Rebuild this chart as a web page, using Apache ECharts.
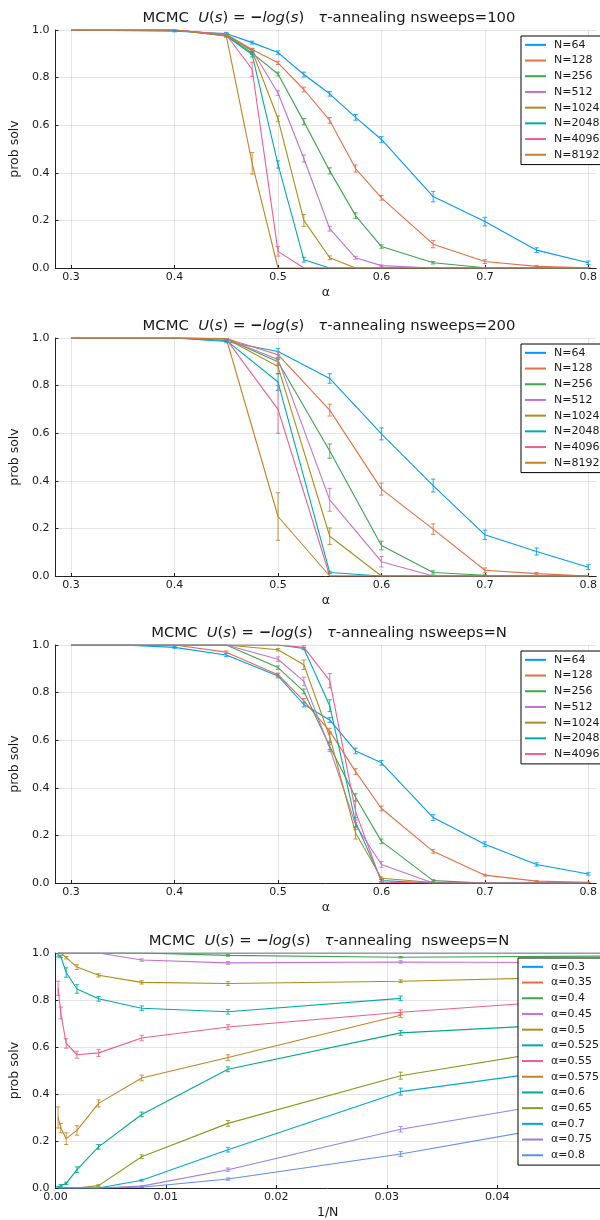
<!DOCTYPE html>
<html>
<head>
<meta charset="utf-8">
<script src="https://cdn.jsdelivr.net/npm/echarts@6/dist/echarts.min.js"></script>
<style>
html,body{margin:0;padding:0;background:#fff;}
#c{width:600px;height:1220px;}
</style>
</head>
<body>
<div id="c"></div>
<script>
// ---------- Panel 1 : nsweeps=100 ----------
const alpha100 = [0.3, 0.4, 0.45, 0.475, 0.5, 0.525, 0.55, 0.575, 0.6, 0.65, 0.7, 0.75, 0.8];
const p100_N64   = [1.0, 0.995, 0.985, 0.947, 0.905, 0.813, 0.732, 0.633, 0.54, 0.30, 0.195, 0.075, 0.022];
const p100_N128  = [1.0, 1.0, 0.982, 0.918, 0.862, 0.75, 0.62, 0.418, 0.295, 0.10, 0.027, 0.007, 0.001];
const p100_N256  = [1.0, 1.0, 0.978, 0.903, 0.815, 0.615, 0.408, 0.22, 0.09, 0.022, 0.001, 0, 0];
const p100_N512  = [1.0, 1.0, 0.98, 0.915, 0.735, 0.46, 0.165, 0.043, 0.01, 0, 0, 0, 0];
const p100_N1024 = [1.0, 1.0, 0.98, 0.912, 0.627, 0.20, 0.043, 0, 0, 0, 0, 0, 0];
const p100_N2048 = [1.0, 1.0, 0.975, 0.897, 0.435, 0.035, 0, 0, 0, 0, 0, 0, 0];
const p100_N4096 = [1.0, 1.0, 0.98, 0.835, 0.07, 0, 0, 0, 0, 0, 0, 0, 0];
const p100_N8192 = [1.0, 1.0, 0.975, 0.44, 0, 0, 0, 0, 0, 0, 0, 0, 0];
const e100_N64   = [0, 0.003, 0.005, 0.006, 0.007, 0.01, 0.01, 0.012, 0.012, 0.022, 0.018, 0.01, 0.007];
const e100_N128  = [0, 0, 0.004, 0.005, 0.007, 0.01, 0.012, 0.015, 0.01, 0.015, 0.008, 0.004, 0.001];
const e100_N256  = [0, 0, 0.004, 0.006, 0.008, 0.013, 0.013, 0.012, 0.007, 0.005, 0, 0, 0];
const e100_N512  = [0, 0, 0.004, 0.007, 0.01, 0.015, 0.01, 0.006, 0.003, 0, 0, 0, 0];
const e100_N1024 = [0, 0, 0.004, 0.008, 0.012, 0.025, 0.008, 0, 0, 0, 0, 0, 0];
const e100_N2048 = [0, 0, 0.004, 0.01, 0.015, 0.01, 0, 0, 0, 0, 0, 0, 0];
const e100_N4096 = [0, 0, 0.004, 0.03, 0.02, 0, 0, 0, 0, 0, 0, 0, 0];
const e100_N8192 = [0, 0, 0.005, 0.045, 0, 0, 0, 0, 0, 0, 0, 0, 0];

// ---------- Panel 2 : nsweeps=200 ----------
const alpha200 = [0.3, 0.4, 0.45, 0.5, 0.55, 0.6, 0.65, 0.7, 0.75, 0.8];
const p200_N64   = [1.0, 1.0, 0.985, 0.943, 0.83, 0.597, 0.38, 0.173, 0.103, 0.037];
const p200_N128  = [1.0, 1.0, 0.998, 0.93, 0.697, 0.365, 0.197, 0.024, 0.01, 0];
const p200_N256  = [1.0, 1.0, 0.997, 0.90, 0.525, 0.128, 0.015, 0.003, 0, 0];
const p200_N512  = [1.0, 1.0, 0.997, 0.91, 0.32, 0.06, 0, 0, 0, 0];
const p200_N1024 = [1.0, 1.0, 0.997, 0.88, 0.167, 0, 0, 0, 0, 0];
const p200_N2048 = [1.0, 1.0, 0.99, 0.815, 0.015, 0, 0, 0, 0, 0];
const p200_N4096 = [1.0, 1.0, 0.995, 0.70, 0, 0, 0, 0, 0, 0];
const p200_N8192 = [1.0, 1.0, 0.998, 0.25, 0, 0, 0, 0, 0, 0];
const e200_N64   = [0, 0, 0.005, 0.013, 0.02, 0.025, 0.027, 0.02, 0.015, 0.01];
const e200_N128  = [0, 0, 0.003, 0.012, 0.025, 0.025, 0.022, 0.01, 0.005, 0];
const e200_N256  = [0, 0, 0.003, 0.015, 0.03, 0.018, 0.007, 0.002, 0, 0];
const e200_N512  = [0, 0, 0.003, 0.02, 0.048, 0.022, 0, 0, 0, 0];
const e200_N1024 = [0, 0, 0.003, 0.03, 0.035, 0, 0, 0, 0, 0];
const e200_N2048 = [0, 0, 0.005, 0.035, 0.005, 0, 0, 0, 0, 0];
const e200_N4096 = [0, 0, 0.003, 0.10, 0, 0, 0, 0, 0, 0];
const e200_N8192 = [0, 0, 0.002, 0.10, 0, 0, 0, 0, 0, 0];

// ---------- Panel 3 : nsweeps=N ----------
const alphaN = [0.3, 0.35, 0.4, 0.45, 0.5, 0.525, 0.55, 0.575, 0.6, 0.65, 0.7, 0.75, 0.8];
const pN_N16   = [1.0, 1.0, 0.99, 0.956, 0.914, null, 0.851, null, 0.736, 0.718, 0.607, 0.499, 0.403];
const pN_N32   = [1.0, 1.0, 0.982, 0.962, 0.88, 0.807, 0.748, 0.735, 0.66, 0.478, 0.41, 0.25, 0.145];
const pN_N64   = [1.0, 1.0, 0.99, 0.958, 0.87, 0.75, 0.685, 0.555, 0.505, 0.275, 0.163, 0.078, 0.038];
const pN_N128  = [1.0, 1.0, 1.0, 0.97, 0.875, 0.765, 0.638, 0.468, 0.313, 0.133, 0.033, 0.008, 0.003];
const pN_N256  = [1.0, 1.0, 1.0, 1.0, 0.905, 0.805, 0.575, 0.36, 0.175, 0.01, 0, 0, 0];
const pN_N512  = [1.0, 1.0, 1.0, 1.0, 0.94, 0.847, 0.567, 0.245, 0.078, 0, 0, 0, 0];
const pN_N1024 = [1.0, 1.0, 1.0, 1.0, 0.98, 0.917, 0.615, 0.21, 0.02, 0.002, 0, 0, 0];
const pN_N2048 = [1.0, 1.0, 1.0, 1.0, 1.0, 0.985, 0.745, 0.255, 0.01, 0, 0, 0, 0];
const pN_N4096 = [1.0, 1.0, 1.0, 1.0, 1.0, 0.99, 0.85, 0.30, 0.003, 0, 0, 0, 0];
const eN_N16   = [0, 0, 0.003, 0.005, 0.006, 0, 0.01, 0, 0.01, 0.015, 0.015, 0.012, 0.01];
const eN_N32   = [0, 0, 0.003, 0.005, 0.006, 0.01, 0.01, 0.01, 0.01, 0.015, 0.015, 0.012, 0.01];
const eN_N64   = [0, 0, 0.004, 0.006, 0.008, 0.01, 0.01, 0.012, 0.01, 0.012, 0.01, 0.007, 0.005];
const eN_N128  = [0, 0, 0, 0.005, 0.007, 0.01, 0.012, 0.012, 0.01, 0.008, 0.004, 0.002, 0.001];
const eN_N256  = [0, 0, 0, 0, 0.007, 0.01, 0.015, 0.015, 0.01, 0.004, 0, 0, 0];
const eN_N512  = [0, 0, 0, 0, 0.01, 0.018, 0.015, 0.02, 0.012, 0, 0, 0, 0];
const eN_N1024 = [0, 0, 0, 0, 0.005, 0.02, 0.02, 0.025, 0.005, 0, 0, 0, 0];
const eN_N2048 = [0, 0, 0, 0, 0, 0.005, 0.025, 0.02, 0.005, 0, 0, 0, 0];
const eN_N4096 = [0, 0, 0, 0, 0, 0.007, 0.03, 0.045, 0.003, 0, 0, 0, 0];

// ---------- labels / ticks ----------
const alphaTicks = [0.3, 0.4, 0.5, 0.6, 0.7, 0.8];
const palette = ['#009AFA', '#E36F47', '#3EA44E', '#C371D2', '#AC8E18', '#00AAAE', '#ED5E93', '#C68225',
                 '#00A98D', '#8E971E', '#00A9CD', '#9B7FE9', '#618DF6'];
const titleTail = ['nsweeps=100', 'nsweeps=200', 'nsweeps=N', ' nsweeps=N'];

// ---------- build ----------
const FONT = 'DejaVu Sans';
const TXT = '#1a1a1a';
const gridTops = [30, 338, 645, 953];
const GH = 238;

function errRender(params, api) {
  const x = api.value(0), y = api.value(1), e = api.value(2);
  if (!(e > 0)) return null;
  const lo = api.coord([x, y - e]), hi = api.coord([x, y + e]);
  const c = api.visual('color');
  const w = 2.2;
  const st = { stroke: c, lineWidth: 1, opacity: 0.85 };
  return { type: 'group', children: [
    { type: 'line', shape: { x1: lo[0], y1: lo[1], x2: hi[0], y2: hi[1] }, style: st },
    { type: 'line', shape: { x1: lo[0] - w, y1: lo[1], x2: lo[0] + w, y2: lo[1] }, style: st },
    { type: 'line', shape: { x1: hi[0] - w, y1: hi[1], x2: hi[0] + w, y2: hi[1] }, style: st }
  ]};
}

const series = [];
function addSeries(gi, name, xs, ys, es, color) {
  const pts = [], epts = [];
  xs.forEach((x, i) => {
    if (ys[i] === null || ys[i] === undefined) return;
    pts.push([x, ys[i]]);
    epts.push([x, ys[i], es ? es[i] : 0]);
  });
  series.push({ type: 'line', name: name, xAxisIndex: gi, yAxisIndex: gi, data: pts,
    showSymbol: false, symbol: 'none', lineStyle: { width: 1.1, color: color }, itemStyle: { color: color },
    animation: false, z: 2 });
  series.push({ type: 'custom', name: name + ' err', xAxisIndex: gi, yAxisIndex: gi, data: epts,
    renderItem: errRender, itemStyle: { color: color }, clip: true, animation: false, z: 3,
    encode: { x: 0, y: 1 } });
}

const Nnames = ['N=64', 'N=128', 'N=256', 'N=512', 'N=1024', 'N=2048', 'N=4096', 'N=8192'];
[p100_N64, p100_N128, p100_N256, p100_N512, p100_N1024, p100_N2048, p100_N4096, p100_N8192].forEach((s, i) =>
  addSeries(0, Nnames[i], alpha100, s, [e100_N64, e100_N128, e100_N256, e100_N512, e100_N1024, e100_N2048, e100_N4096, e100_N8192][i], palette[i]));
[p200_N64, p200_N128, p200_N256, p200_N512, p200_N1024, p200_N2048, p200_N4096, p200_N8192].forEach((s, i) =>
  addSeries(1, Nnames[i], alpha200, s, [e200_N64, e200_N128, e200_N256, e200_N512, e200_N1024, e200_N2048, e200_N4096, e200_N8192][i], palette[i]));
const pNlist = [pN_N64, pN_N128, pN_N256, pN_N512, pN_N1024, pN_N2048, pN_N4096];
const eNlist = [eN_N64, eN_N128, eN_N256, eN_N512, eN_N1024, eN_N2048, eN_N4096];
pNlist.forEach((s, i) => addSeries(2, Nnames[i], alphaN, s, eNlist[i], palette[i]));

// panel 4: transpose over N
const Nvals4 = [4096, 2048, 1024, 512, 256, 128, 64, 32, 16];
const pByN = [pN_N4096, pN_N2048, pN_N1024, pN_N512, pN_N256, pN_N128, pN_N64, pN_N32, pN_N16];
const eByN = [eN_N4096, eN_N2048, eN_N1024, eN_N512, eN_N256, eN_N128, eN_N64, eN_N32, eN_N16];
const invN = Nvals4.map(n => 1 / n);
const alphaNames = alphaN.map(a => 'α=' + a);
alphaN.forEach((a, j) => {
  addSeries(3, alphaNames[j], invN, pByN.map(arr => arr[j]), eByN.map(arr => arr[j]), palette[j]);
});

function mkTitle(i) {
  const fs = 14.8;
  return {
    text: 'MCMC  {i|U}({i|s}) = {b|−}{i|log}({i|s})   {i|τ}-annealing ' + titleTail[i],
    left: 324, top: gridTops[i] - 24, textAlign: 'center',
    textStyle: { fontFamily: FONT, fontSize: fs, fontWeight: 'normal', color: TXT,
      rich: { i: { fontFamily: FONT, fontSize: fs, fontStyle: 'italic', color: TXT },
              b: { fontFamily: FONT, fontSize: fs, fontWeight: 'bold', color: TXT } } }
  };
}

function mkLegend(i, names) {
  return {
    data: names, orient: 'vertical', left: i === 3 ? 518 : 521, top: gridTops[i] + (i === 3 ? 5 : 6),
    itemWidth: 21, itemHeight: 2, itemGap: 2, icon: 'rect',
    padding: [2, 12, 3, 4], borderColor: '#000', borderWidth: 1, backgroundColor: '#fff',
    textStyle: { fontFamily: FONT, fontSize: 11, color: TXT, lineHeight: 13.7, padding: [0, 0, 0, 3] },
    z: 20, selectedMode: false
  };
}

const grids = gridTops.map(t => ({ left: 50, top: t, width: 550, height: GH, containLabel: false }));
grids[3].height = 237;

const axisLineStyle = { show: true, lineStyle: { color: '#222', width: 1 } };
const splitStyle = { show: true, lineStyle: { color: 'rgba(0,0,0,0.1)', width: 1 } };

const xAxes = [0, 1, 2].map(i => ({
  type: 'value', gridIndex: i, min: 0.2848, max: 0.8076,
  name: 'α', nameLocation: 'middle', nameGap: 18,
  nameTextStyle: { fontFamily: FONT, fontSize: 12.5, color: TXT },
  axisLine: axisLineStyle,
  axisTick: { show: true, inside: true, length: 3, customValues: alphaTicks, lineStyle: { color: '#222' } },
  axisLabel: { customValues: alphaTicks, fontFamily: FONT, fontSize: 11, color: TXT, margin: 4,
    formatter: v => v.toFixed(1) },
  splitLine: splitStyle
}));
xAxes.push({
  type: 'value', gridIndex: 3, min: 0, max: 0.0493, interval: 0.01,
  name: '1/N', nameLocation: 'middle', nameGap: 18,
  nameTextStyle: { fontFamily: FONT, fontSize: 12.5, color: TXT },
  axisLine: axisLineStyle,
  axisTick: { show: true, inside: true, length: 3, lineStyle: { color: '#222' } },
  axisLabel: { fontFamily: FONT, fontSize: 11, color: TXT, margin: 4, showMaxLabel: false,
    formatter: v => v.toFixed(2) },
  splitLine: splitStyle
});

const yAxes = [0, 1, 2, 3].map(i => ({
  type: 'value', gridIndex: i, min: 0, max: 1, interval: 0.2,
  name: 'prob solv', nameLocation: 'middle', nameGap: 24,
  nameTextStyle: { fontFamily: FONT, fontSize: 12.5, color: TXT },
  axisLine: axisLineStyle,
  axisTick: { show: true, inside: true, length: 3, lineStyle: { color: '#222' } },
  axisLabel: { fontFamily: FONT, fontSize: 11, color: TXT, margin: 6, formatter: v => v.toFixed(1) },
  splitLine: splitStyle
}));

const chart = echarts.init(document.getElementById('c'), null, { renderer: 'canvas' });
chart.setOption({
  animation: false,
  backgroundColor: '#fff',
  title: [0, 1, 2, 3].map(mkTitle),
  legend: [mkLegend(0, Nnames), mkLegend(1, Nnames), mkLegend(2, Nnames.slice(0, 7)), mkLegend(3, alphaNames)],
  grid: grids,
  xAxis: xAxes,
  yAxis: yAxes,
  series: series
});
</script>
</body>
</html>
